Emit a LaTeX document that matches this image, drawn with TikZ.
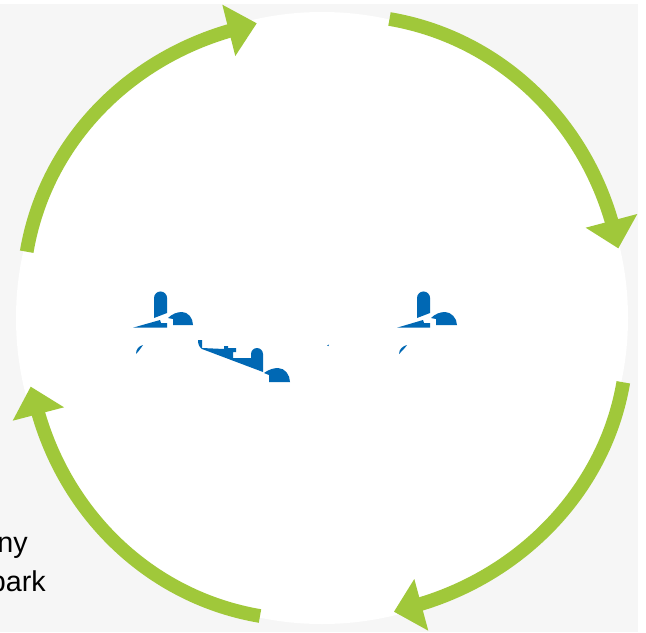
\documentclass[tikz,border=0pt]{standalone}
\usepackage{fontspec}
\setmainfont{Liberation Sans}
\definecolor{panel}{HTML}{F6F6F6}
\definecolor{leaf}{HTML}{A0C83A}
\definecolor{azure}{HTML}{0068B4}
\tikzset{
  arcband/.style={draw=leaf,line width=10.3pt,line cap=butt},
  arrowpart/.style={fill=leaf,draw=none},
  bluepart/.style={fill=azure,draw=none},
  captext/.style={font=\fontsize{21.5pt}{26pt}\selectfont,text=black,inner sep=0pt,anchor=base east}
}
\begin{document}
\begin{tikzpicture}[x=0.75pt,y=-0.75pt]
\useasboundingbox (0,0) rectangle (646,632);
\fill[panel] (0,4) rectangle (638,632);
\coordinate (c) at (322,318);
\fill[white] (c) circle[radius=229.5pt];
% arcs
\draw[arcband] (26.7,251.7) .. controls (44.7,145.7) and (124,61.4) .. (230,30.7);
\draw[arcband] (389.5,19) .. controls (495.5,37) and (581,115.7) .. (611.7,221.7);
\draw[arcband] (623.3,382.3) .. controls (605.3,488.3) and (523.3,574.3) .. (417.3,605);
\draw[arcband] (260,616) .. controls (154,598) and (69,519.3) .. (38.3,413.3);
% heads
\fill[arrowpart] (222.3,4.7) -- (256.7,23.3) -- (235.3,56) -- cycle;
\fill[arrowpart] (585.7,227.7) -- (637.3,214) -- (618.3,248.3) -- cycle;
\fill[arrowpart] (414.3,579) -- (394,611.7) -- (428.3,630.7) -- cycle;
\fill[arrowpart] (64,407.3) -- (30.7,386.7) -- (12.7,420.7) -- cycle;
% blue fragments, left
\fill[bluepart] (154,318) -- (154,298) arc[start angle=180,end angle=0,radius=4.9pt] -- (167,313) -- (154,318) -- cycle;
\fill[bluepart] (173,325) -- (173,319) -- (168,318) .. controls (172,314) and (177,312) .. (182,312) .. controls (188,312) and (193,318) .. (193,325) -- cycle;
\fill[bluepart] (133,327.7) -- (160,320) -- (161,323) -- (167,323) -- (167,327.7) -- cycle;
\fill[bluepart] (136,354) .. controls (136,349) and (139,346) .. (143,345) .. controls (141,348) and (139,351) .. (136,354) -- cycle;
% blue fragments, middle
\fill[bluepart] (198,340) -- (202,340) -- (202,348) -- (224,349) -- (224,346) -- (228,346) -- (228,348) -- (236,348) -- (236,352) -- (233,352) -- (233,358) -- (251,358) -- (251,354) arc[start angle=180,end angle=0,radius=4.5pt] -- (263,372) -- (202,349) .. controls (199,347) and (198,344) .. (198,340) -- cycle;
\fill[bluepart] (269,382) -- (269,375) -- (264,373) .. controls (268,370) and (273,368) .. (278,368) .. controls (285,368) and (290,375) .. (290,382) -- cycle;
% blue fragments, right
\fill[bluepart] (417,318) -- (417,298) arc[start angle=180,end angle=0,radius=4.9pt] -- (430,313) -- (417,318) -- cycle;
\fill[bluepart] (436,325) -- (436,319) -- (431,318) .. controls (435,314) and (440,312) .. (445,312) .. controls (451,312) and (457,318) .. (457,325) -- cycle;
\fill[bluepart] (397,327.7) -- (423,320) -- (424,323) -- (430,323) -- (430,327.7) -- cycle;
\fill[bluepart] (399,354) .. controls (399,349) and (403,346) .. (407,345) .. controls (405,348) and (402,351) .. (399,354) -- cycle;
\fill[bluepart] (327,345.5) -- (329,344.5) -- (328.5,346) -- cycle;
% clipped caption
\node[captext] (capa) at (28,552) {ny};
\node[captext] (capb) at (46,591) {park};
\end{tikzpicture}
\end{document}
